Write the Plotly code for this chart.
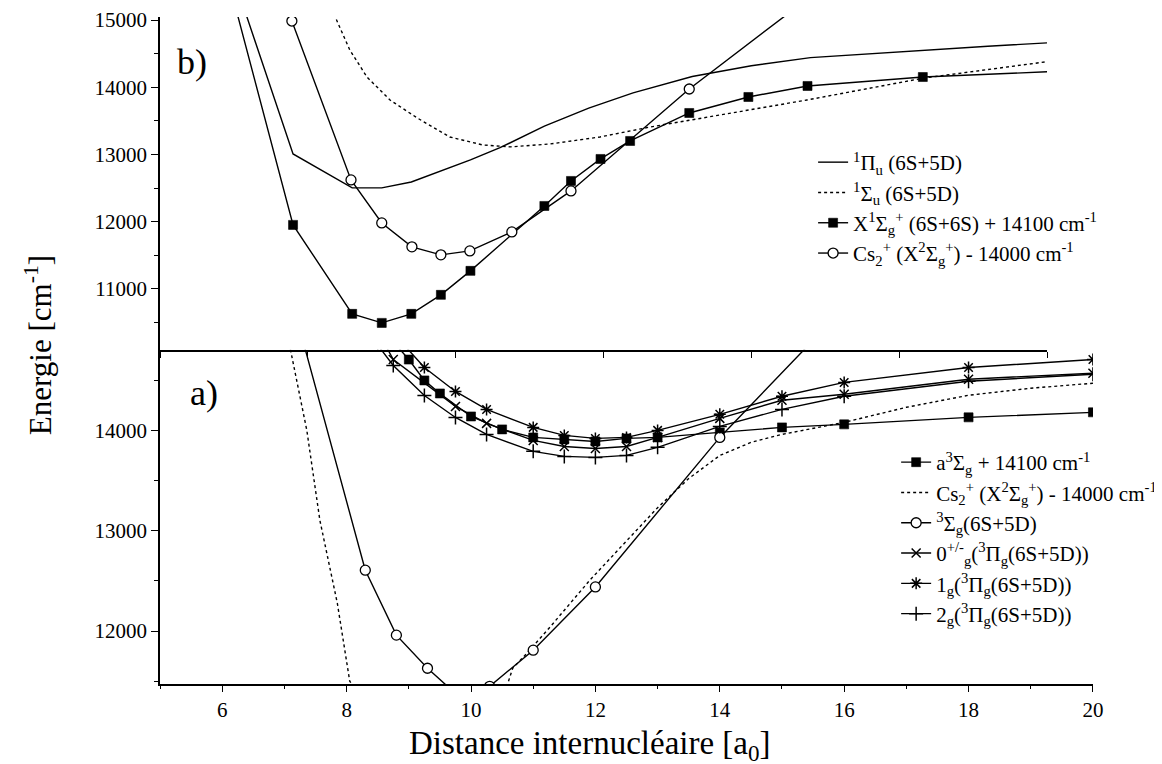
import plotly.graph_objects as go

# ---------------- data : panel b) (upper) ----------------
pi_u_x = [6.25, 7.25, 8.25, 8.75, 9.25, 10.25, 10.75, 11.5, 12.25, 13.0, 14.0, 15.0, 16.0, 17.0, 18.0, 19.0, 20.0]
pi_u_y = [15620, 13007, 12502, 12502, 12590, 12918, 13100, 13420, 13690, 13915, 14160, 14320, 14440, 14500, 14555, 14610, 14660]

sig_u_x = [7.9, 8.21, 8.5, 8.89, 9.35, 9.9, 10.46, 10.92, 11.6, 12.44, 13.3, 14.94, 15.94, 17.92, 20.0]
sig_u_y = [15170, 14554, 14152, 13810, 13543, 13260, 13141, 13112, 13156, 13260, 13410, 13660, 13810, 14137, 14380]

x1sg_x = [6.25, 7.25, 8.25, 8.75, 9.25, 9.75, 10.25, 11.5, 11.95, 12.45, 12.95, 13.95, 14.95, 15.95, 17.9, 20.0]
x1sg_y = [15280, 11952, 10628, 10494, 10628, 10911, 11268, 12234, 12606, 12933, 13201, 13617, 13855, 14019, 14152, 14230]

csb_x = [7.23, 8.23, 8.75, 9.26, 9.75, 10.24, 10.95, 11.95, 13.95, 16.0]
csb_y = [14985, 12621, 11981, 11625, 11506, 11565, 11848, 12457, 13974, 15350]

# ---------------- data : panel a) (lower) ----------------
a3sg_x = [8.5, 9.0, 9.25, 9.5, 10.0, 10.5, 11.0, 11.5, 12.0, 12.5, 13.0, 14.0, 15.0, 16.0, 18.0, 20.0]
a3sg_y = [15060, 14706, 14498, 14368, 14139, 14010, 13930, 13910, 13890, 13920, 13930, 13980, 14030, 14060, 14130, 14180]

csa_x = [7.0, 7.36, 7.57, 7.85, 8.05, 9.3, 10.55, 10.67, 10.84, 11.27, 11.91, 12.5, 13.0, 13.5, 14.0, 14.5, 15.0, 16.0, 17.0, 18.0, 19.0, 20.0]
csa_y = [15100, 14000, 13104, 12279, 11500, 10500, 11400, 11630, 11740, 12040, 12507, 12900, 13230, 13520, 13750, 13880, 13960, 14080, 14230, 14350, 14420, 14470]

s3g_x = [7.0, 8.3, 8.8, 9.3, 9.8, 10.3, 11.0, 12.0, 14.0, 16.0]
s3g_y = [15570, 12607, 11960, 11630, 11350, 11450, 11810, 12440, 13930, 15220]

o0g_x = [8.5, 8.75, 9.75, 10.25, 11.0, 11.5, 12.0, 12.5, 13.0, 14.0, 15.0, 16.0, 18.0, 20.0]
o0g_y = [14990, 14706, 14239, 14070, 13900, 13840, 13820, 13840, 13930, 14120, 14300, 14360, 14510, 14570]

g1_x = [8.75, 9.25, 9.75, 10.25, 11.0, 11.5, 12.0, 12.5, 13.0, 14.0, 15.0, 16.0, 18.0, 20.0]
g1_y = [14970, 14627, 14388, 14209, 14030, 13950, 13920, 13930, 14000, 14160, 14340, 14478, 14627, 14706]

g2_x = [8.5, 8.75, 9.25, 9.75, 10.25, 11.0, 11.5, 12.0, 12.5, 13.0, 14.0, 15.0, 16.0, 18.0, 20.0]
g2_y = [14850, 14647, 14348, 14129, 13960, 13791, 13741, 13731, 13751, 13831, 14040, 14209, 14340, 14490, 14560]

x_ticks = [6, 8, 10, 12, 14, 16, 18, 20]

FONT = "Liberation Serif, Times New Roman, serif"
BLACK = "black"
LW = 1.4

fig = go.Figure()


def add(x, y, name, panel, dash="solid", marker=None, showlegend=True):
    xa, ya, lg = ("x2", "y2", "legend") if panel == "b" else ("x", "y", "legend2")
    mode = "lines" if marker is None else "lines+markers"
    kw = dict(x=x, y=y, name=name, mode=mode, xaxis=xa, yaxis=ya, legend=lg,
              showlegend=showlegend, line=dict(color=BLACK, width=LW, dash=dash))
    if marker is not None:
        kw["marker"] = marker
    fig.add_trace(go.Scatter(**kw))


SQ = dict(symbol="square", size=9, color=BLACK, line=dict(color=BLACK, width=0.6))
CI = dict(symbol="circle", size=10, color="white", line=dict(color=BLACK, width=1.3))
XX = dict(symbol="x-thin", size=9, color=BLACK, line=dict(color=BLACK, width=1.5))
AS = dict(symbol="asterisk", size=10, color=BLACK, line=dict(color=BLACK, width=1.5))
PL = dict(symbol="cross-thin", size=10, color=BLACK, line=dict(color=BLACK, width=1.5))

# upper panel
add(pi_u_x, pi_u_y, "<sup>1</sup>Π<sub>u</sub> (6S+5D)", "b")
add(sig_u_x, sig_u_y, "<sup>1</sup>Σ<sub>u</sub> (6S+5D)", "b", dash="dot")
# the last point of the X state curve carries no symbol: draw that tail as a plain line
add(x1sg_x[-2:], x1sg_y[-2:], "tail", "b", showlegend=False)
add(x1sg_x[:-1], x1sg_y[:-1], "X<sup>1</sup>Σ<sub>g</sub><sup>+</sup> (6S+6S) + 14100 cm<sup>-1</sup>", "b",
    marker=SQ)
add(csb_x, csb_y, "Cs<sub>2</sub><sup>+</sup> (X<sup>2</sup>Σ<sub>g</sub><sup>+</sup>) - 14000 cm<sup>-1</sup>", "b",
    marker=CI)

# lower panel
add(a3sg_x, a3sg_y, "a<sup>3</sup>Σ<sub>g</sub> + 14100 cm<sup>-1</sup>", "a", marker=SQ)
add(csa_x, csa_y, "Cs<sub>2</sub><sup>+</sup> (X<sup>2</sup>Σ<sub>g</sub><sup>+</sup>) - 14000 cm<sup>-1</sup>", "a", dash="dot")
add(s3g_x, s3g_y, "<sup>3</sup>Σ<sub>g</sub>(6S+5D)", "a", marker=CI)
add(o0g_x, o0g_y, "0<sup>+/-</sup><sub>g</sub>(<sup>3</sup>Π<sub>g</sub>(6S+5D))", "a", marker=XX)
add(g1_x, g1_y, "1<sub>g</sub>(<sup>3</sup>Π<sub>g</sub>(6S+5D))", "a", marker=AS)
add(g2_x, g2_y, "2<sub>g</sub>(<sup>3</sup>Π<sub>g</sub>(6S+5D))", "a", marker=PL)

tickfont = dict(family=FONT, size=21, color=BLACK)
common_axis = dict(showgrid=False, zeroline=False, showline=True, linecolor=BLACK, linewidth=1.5,
                   ticks="outside", tickcolor=BLACK, tickwidth=1.3, tickfont=tickfont,
                   automargin=False, tickformat="d")

fig.update_layout(
    width=1162, height=764, autosize=False,
    margin=dict(l=152, r=77, t=9, b=88, autoexpand=False),
    paper_bgcolor="white", plot_bgcolor="white",
    font=dict(family=FONT, color=BLACK),
    xaxis=dict(domain=[0, 1], range=[4.999, 20.001], anchor="y", tickvals=x_ticks, ticklen=6,
               minor=dict(ticks="outside", dtick=1, tick0=5, ticklen=3, tickcolor=BLACK), **common_axis),
    yaxis=dict(domain=[0, 0.503], range=[11473, 14816], anchor="x", dtick=1000, tick0=0, ticklen=7,
               minor=dict(ticks="outside", dtick=500, tick0=0, ticklen=4, tickcolor=BLACK), **common_axis),
    xaxis2=dict(domain=[0, 0.9507], range=[5, 20], anchor="y2", tick0=5, dtick=2.5, ticklen=6,
                showticklabels=False, **common_axis),
    yaxis2=dict(domain=[0.501, 1], range=[10093, 15045], anchor="x2", dtick=1000, tick0=0, ticklen=7,
                minor=dict(ticks="outside", dtick=500, tick0=0, ticklen=4, tickcolor=BLACK), **common_axis),
    legend=dict(x=0.70, y=0.8126, xanchor="left", yanchor="top", bgcolor="rgba(0,0,0,0)",
                font=dict(family=FONT, size=21, color=BLACK), tracegroupgap=0),
    legend2=dict(x=0.789, y=0.3628, xanchor="left", yanchor="top", bgcolor="rgba(0,0,0,0)",
                 font=dict(family=FONT, size=21, color=BLACK), tracegroupgap=0),
    showlegend=True,
    annotations=[
        dict(text="b)", x=0.034, y=0.9325, xref="paper", yref="paper", showarrow=False,
             xanchor="center", yanchor="middle", font=dict(family=FONT, size=36, color=BLACK)),
        dict(text="a)", x=0.0472, y=0.4363, xref="paper", yref="paper", showarrow=False,
             xanchor="center", yanchor="middle", font=dict(family=FONT, size=36, color=BLACK)),
        dict(text="Energie [cm<sup>-1</sup>]", x=-0.1308, y=0.508, xref="paper", yref="paper",
             xanchor="center", yanchor="middle",
             textangle=-90, showarrow=False, font=dict(family=FONT, size=31, color=BLACK)),
        dict(text="Distance internucléaire [a<sub>0</sub>]", x=0.461, y=-0.0915, xref="paper", yref="paper",
             xanchor="center", yanchor="middle",
             showarrow=False, font=dict(family=FONT, size=33, color=BLACK)),
    ],
)

fig.write_html("out.html")
